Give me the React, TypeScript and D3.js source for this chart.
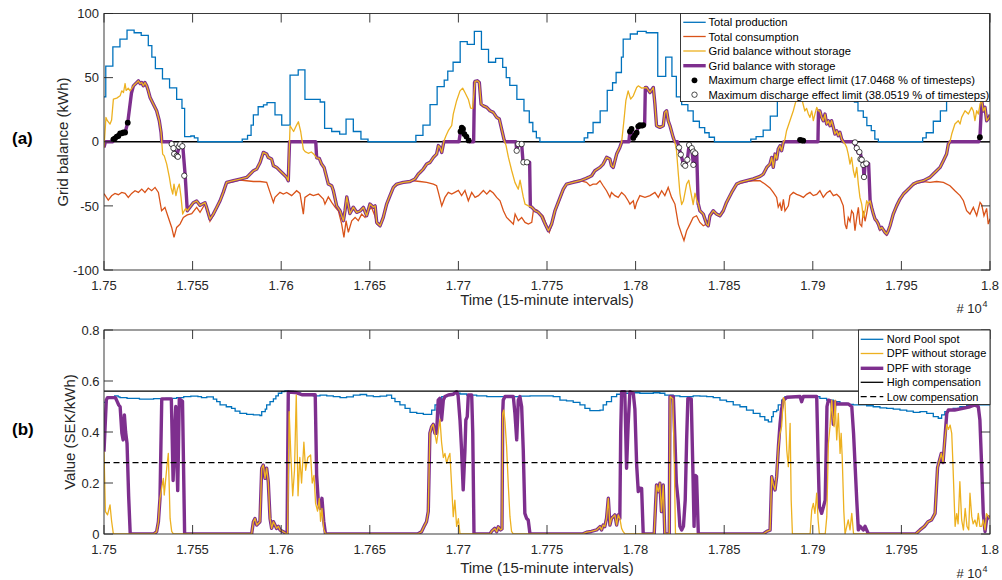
import React from "react";
import * as d3 from "d3";

type Pt = [number, number];

// ---------- shared ticks ----------
const xTickValues = [17500, 17550, 17600, 17650, 17700, 17750, 17800, 17850, 17900, 17950, 18000];
const xTickLabels = ["1.75", "1.755", "1.76", "1.765", "1.77", "1.775", "1.78", "1.785", "1.79", "1.795", "1.8"];
const yTicksA = [-100, -50, 0, 50, 100];
const yTicksB = [0, 0.2, 0.4, 0.6, 0.8];
const yTickLabelsB = ["0", "0.2", "0.4", "0.6", "0.8"];

// ---------- panel (a) data ----------
const production: Pt[] = [
  [17500, 35], [17501, 59], [17505, 74], [17509, 80], [17513, 87], [17517, 85], [17521, 83], [17525, 75], [17527, 66],
  [17529, 57], [17533, 49], [17537, 42], [17541, 33], [17544, 26], [17545.5, 4], [17549, 4.5], [17551, 3], [17553, 0],
  [17578, 2], [17581, 5], [17583, 13], [17584.3, 21], [17587, 27.3], [17590, 28.7], [17592, 30.5], [17596.5, 21],
  [17600.3, 13], [17605, 52], [17609.6, 56], [17613.4, 33], [17622, 31], [17624.5, 10.4], [17628.5, 8], [17633, 6],
  [17636.6, 17.7], [17640.7, 8], [17645, 2], [17649, 0],
  [17676, 5], [17680, 13], [17684, 29], [17688, 43], [17692, 48], [17694, 55], [17697, 62], [17701, 78], [17705, 76],
  [17709, 86], [17713, 72], [17717, 62], [17721, 65], [17725, 58], [17727, 50], [17729, 44], [17733, 33], [17737, 24],
  [17740, 15], [17742, 8], [17744, 3], [17746, 0],
  [17771, 3], [17773, 7], [17776, 15], [17780, 24], [17784, 40], [17787, 46], [17789, 54], [17792, 66], [17793, 80],
  [17797, 84], [17801, 86], [17806, 85], [17812.5, 51], [17817, 66], [17820.5, 51], [17823, 35], [17826, 29],
  [17829.5, 24], [17832.5, 16], [17836, 11], [17839, 7], [17841.5, 3.5], [17844.5, 0],
  [17865, 2], [17868, 4], [17872, 9], [17876, 20], [17880, 32], [17884, 48], [17888, 62], [17892, 75], [17896, 84],
  [17900, 86], [17904, 82], [17908, 72], [17912, 60], [17916, 48], [17920, 38], [17923.5, 31], [17925.5, 24],
  [17928.5, 19], [17930.5, 12.5], [17933, 8.6], [17935, 2], [17937, 0],
  [17962, 3], [17964, 7], [17968, 16], [17972, 24], [17975.5, 32], [17979, 45], [17983, 58], [17987, 68], [17991, 78],
  [17994, 84], [17997, 89], [18000, 89]
];

const consumption: Pt[] = [
  [17500, -40.5], [17502.4, -45.5], [17504.3, -42.1], [17506.2, -40.3], [17508.1, -41.3], [17510, -39.5], [17511.9, -40.3],
  [17513.7, -43.4], [17515.6, -40.3], [17517.5, -38.2], [17519.4, -39.5], [17521.3, -36.9], [17523.1, -39.5], [17525, -36.1],
  [17526.9, -38.2], [17528.8, -35.6], [17530.7, -39.5], [17532.5, -53.8], [17534.4, -51.2], [17536.3, -59], [17538.2, -66.8],
  [17539.5, -74.5], [17541, -66.8], [17542.9, -64.2], [17544.8, -59], [17547, -57], [17549.5, -56], [17552.3, -51.2],
  [17554.2, -55], [17557, -48.5], [17557.9, -52], [17559.8, -62], [17561.7, -57.5], [17563.6, -52], [17565.5, -46.5],
  [17567.3, -40], [17569.2, -32.5], [17573, -31], [17576.7, -29.9], [17580.5, -30.4], [17584.3, -31], [17588.1, -31],
  [17591.8, -31.7], [17593.7, -39.5], [17595.6, -47.3], [17596.5, -43.4], [17599.3, -39.5], [17601.2, -40.8], [17603.1, -39.5],
  [17605.9, -42], [17608.7, -38.2], [17610.6, -40.3], [17612.5, -56.4], [17613.4, -43.4], [17616.2, -40.8], [17618.1, -42],
  [17621, -40.8], [17623.8, -44.7], [17624.7, -48.6], [17626.6, -43], [17628.5, -47.3], [17630.4, -51], [17632.3, -54],
  [17634.1, -64], [17635.4, -74.5], [17636.6, -61.6], [17637.9, -70.6], [17639.8, -61.6], [17641.7, -59], [17643.5, -61.6],
  [17645.4, -56.4], [17647.3, -59], [17649.2, -53.8], [17651, -51.2], [17652.9, -58], [17653.9, -64], [17655.8, -66],
  [17657.6, -60], [17659.5, -48.6], [17661.4, -42], [17663.3, -35.6], [17667, -32.5], [17670.8, -31.7], [17674.6, -30.4],
  [17678.3, -31], [17682.1, -31.7], [17685.9, -33], [17687.7, -34.3], [17688.7, -39.5], [17690.6, -50], [17692.4, -43.4],
  [17694.3, -39.5], [17696.2, -40.8], [17698, -39.5], [17700, -38], [17701.8, -42], [17703.7, -38], [17705.6, -46],
  [17707.5, -39.5], [17709.4, -43.4], [17711.3, -42], [17714.1, -38], [17716, -40.8], [17717.8, -38], [17719.7, -40],
  [17721.6, -43.4], [17723.5, -46], [17725.4, -53.8], [17727.2, -59], [17729.1, -61.6], [17731, -64.2], [17732, -56.4],
  [17733.8, -61.6], [17735.7, -59], [17737.6, -62.9], [17739.5, -64.2], [17741.4, -62.9], [17742.3, -53.8], [17744.2, -53],
  [17746.1, -56], [17747.9, -58], [17749.8, -65], [17751.3, -70.6], [17752.6, -65.5], [17754.5, -55], [17756.3, -48.6],
  [17759.2, -38.2], [17761, -33], [17764.8, -31], [17768.6, -30.4], [17772.3, -31.7], [17774.2, -34.3], [17776, -33],
  [17778, -33], [17779.9, -30.4], [17781.7, -34.3], [17783.6, -38.2], [17785.5, -43.4], [17786.4, -39.5], [17788.3, -42],
  [17790.2, -43.4], [17792.1, -39.5], [17794, -42], [17795.8, -46], [17796.8, -48.6], [17798.7, -46], [17799.6, -52.5],
  [17800.6, -47.3], [17802.4, -42], [17805.3, -43.4], [17808.1, -42], [17810.9, -39.5], [17812.8, -43.4], [17814.7, -38.2],
  [17816.5, -42], [17818.4, -35.6], [17820.3, -43.4], [17822.2, -48.6], [17824.1, -64.2], [17826, -72], [17827.3, -77],
  [17828.8, -69.4], [17830.7, -64.2], [17832.5, -59], [17834.4, -57.7], [17836.3, -62.9], [17838.2, -65.5], [17840.1, -64.2],
  [17841.9, -59], [17843.8, -55], [17845.7, -57], [17847.6, -58.4], [17849.5, -54], [17851.3, -48], [17854.2, -40],
  [17857, -33.5], [17858.9, -32.5], [17862.6, -31], [17866.4, -30.4], [17870.2, -30.4], [17873, -33], [17875.8, -36],
  [17877.7, -39.5], [17879.6, -43.4], [17880.5, -51], [17881.5, -48], [17882.4, -53.8], [17883.4, -45], [17884.3, -54],
  [17886.2, -50], [17887.1, -42], [17889, -39.5], [17890.9, -41], [17892.8, -42], [17894.7, -43.4], [17896.5, -41],
  [17898.4, -39.5], [17900.3, -42], [17902.2, -41], [17904, -38.2], [17905.9, -43.4], [17907.8, -40], [17909.7, -38.2],
  [17911.6, -42], [17913.5, -41], [17915.3, -43.4], [17917.2, -50], [17918.2, -64.2], [17919.1, -68], [17920, -59],
  [17921, -62], [17921.9, -53.8], [17922.9, -56], [17923.8, -69.4], [17924.8, -59], [17925.7, -51.2], [17926.6, -64.2],
  [17927.6, -66], [17928.5, -53.8], [17929.5, -62], [17930.4, -56], [17931.3, -48.6], [17932.3, -47], [17933.2, -52],
  [17934.2, -57], [17935.1, -61], [17936, -62], [17937, -65], [17937.9, -69], [17938.9, -67], [17940.7, -71.5],
  [17941.7, -73], [17942.6, -70], [17943.6, -66], [17945.4, -57], [17947.3, -51], [17949.2, -45.5], [17951.1, -41.5],
  [17953, -39], [17954.9, -36.5], [17956.7, -34], [17958.6, -32.5], [17962.4, -31], [17966.1, -31.7], [17969.9, -31],
  [17973.7, -31.7], [17977.4, -34.3], [17980.2, -38.2], [17983.1, -42], [17985, -46], [17986.8, -53.8], [17988.7, -56.4],
  [17990.6, -51.2], [17992.5, -57.7], [17994.4, -47.3], [17995.3, -49], [17996.6, -57.7], [17998.1, -52], [17999, -64.2],
  [18000, -60]
];

const balanceNoStorage: Pt[] = [
  [17500, -4.4], [17501.1, 19], [17501.9, 16.4], [17503.4, 13.8], [17504.3, 17], [17505.3, 33.2], [17507.2, 34], [17509.1, 35.8],
  [17510, 39.7], [17511, 38.4], [17511.9, 45.4], [17512.5, 40], [17513.7, 41.8], [17514.7, 39.7], [17516.6, 43.6], [17518.5, 46.2],
  [17519.4, 47.5], [17520.4, 45.4], [17521.3, 46.2], [17522.2, 43.6], [17523.1, 46.2], [17524.1, 43.6], [17525, 39.7], [17526, 34.5],
  [17527.8, 29.4], [17529.7, 24.2], [17531.2, 16.4], [17532.2, 7.3], [17533.1, -9.6], [17534, -11], [17535.4, -17.4],
  [17536.9, -27.8], [17537.8, -35.6], [17538.8, -40.8], [17539.5, -33], [17540.6, -42], [17541.4, -36.9], [17542.5, -33],
  [17543.5, -43.4], [17544.4, -56.4], [17545.2, -54], [17546.1, -52], [17547, -53.8], [17548.5, -51], [17550.4, -47.5],
  [17552.3, -46.2], [17554.2, -49.6], [17557, -47.5], [17557.9, -51.2], [17559.8, -60.3], [17561.7, -56.4], [17563.6, -51.2],
  [17565.5, -46], [17567.3, -39.5], [17569.2, -31.7], [17573, -30.4], [17576.7, -29.1], [17580.5, -27.8], [17581.5, -26.5],
  [17584.3, -22.6], [17586.2, -21.3], [17588.1, -16.1], [17589.9, -8.3], [17591.8, -9.6], [17592.7, -12.2], [17594.6, -13.5],
  [17595.6, -18.7], [17597.4, -20], [17599.3, -22.6], [17601.2, -25.2], [17603.1, -27.8], [17604, -30.4], [17605, 12.5],
  [17607, 8], [17608.7, 13], [17609.7, 15.6], [17611, 8], [17612.5, -6], [17613.5, -7.7], [17615.3, -9], [17617, -8],
  [17618.6, -10], [17620, -12.5], [17621.5, -13], [17622.8, -17.4], [17624.2, -20], [17626.6, -33], [17628.5, -34.3],
  [17629.4, -38], [17631.3, -50], [17633.2, -53.8], [17635.1, -61.6], [17636, -53.8], [17637, -43], [17638.8, -56],
  [17640.7, -51], [17642.6, -55], [17644.5, -54], [17646.4, -51.2], [17648.2, -57.7], [17650.1, -48.6], [17652, -51],
  [17653, -50], [17653.9, -62.9], [17655.8, -65.5], [17657.6, -59], [17659.5, -48.6], [17661.4, -42], [17663.3, -35.6],
  [17665.2, -33], [17668.9, -31.7], [17672.7, -31], [17675.5, -29], [17677.4, -25.2], [17678.3, -24], [17680.2, -21.3],
  [17682.1, -17.4], [17684, -16.1], [17685.9, -12.2], [17687.7, -9.6], [17688.7, -3], [17689.6, -4.4], [17690.6, -8.3],
  [17691.9, 0.8], [17693, 4.7], [17694.3, 8.6], [17696.2, 12.5], [17697.1, 21.6], [17699, 32], [17700.9, 39.7],
  [17702.4, 41.8], [17703.7, 38.4], [17705.6, 33.2], [17706.9, 26.2], [17708, 26], [17708.8, 38], [17709.4, 47],
  [17710.7, 47.5], [17711.8, 46.2], [17712.8, 29.4], [17714.1, 28], [17716, 26.8], [17717.8, 24.2], [17719.7, 22.9],
  [17721.6, 19], [17723.1, 17.7], [17724.4, 9.9], [17725.7, 2], [17726.9, -3], [17728.2, -12], [17730.1, -22.6],
  [17731.9, -31.7], [17733.8, -37], [17734.8, -30], [17736.6, -43], [17737.6, -48.6], [17739.5, -50], [17741.4, -51],
  [17743.3, -53.8], [17745.1, -55], [17747, -58], [17748.9, -64], [17750.8, -69.4], [17752.6, -64.2], [17754.5, -53.8],
  [17756.3, -47.3], [17759.2, -36.9], [17761, -33], [17764.8, -31.7], [17768.6, -30.4], [17771.4, -29], [17773.3, -27.8],
  [17775.2, -26.5], [17777, -22.6], [17779.9, -20], [17781.7, -17.4], [17783.6, -12.2], [17785.5, -13.5], [17786.4, -18.7],
  [17787.4, -20], [17789.3, -9.6], [17791.1, -4.4], [17792.1, -0.5], [17793.4, 16.4], [17794.5, 32], [17795.8, 39.7],
  [17797.2, 33.2], [17798.7, 35.8], [17800.6, 42.3], [17801.5, 43.6], [17803.4, 41.8], [17806.2, 42.3], [17808.1, 38.4],
  [17810, 42.3], [17810.9, 29.4], [17811.8, 12.5], [17813.7, 11.2], [17815.6, 12.5], [17816.5, 22.9], [17817.5, 24.2],
  [17818.4, 16.4], [17819.4, 12.5], [17821.2, 3.4], [17822.2, -0.5], [17823.1, -7], [17824.1, -25], [17825, -40],
  [17826, -49], [17827, -46], [17828.8, -33], [17830, -30], [17831, -38], [17832.5, -49], [17833.5, -40], [17834.4, -45],
  [17835.4, -48.6], [17836.3, -53.8], [17838.2, -56.4], [17840.1, -64.2], [17841, -65.5], [17841.9, -57.7], [17843.8, -53.8],
  [17845.7, -56.4], [17847.6, -57.7], [17849.5, -53.8], [17851.3, -47.3], [17854.2, -39.5], [17857, -33], [17858.9, -31.7],
  [17862.6, -30.4], [17866.4, -29], [17870.2, -27], [17872.1, -25.2], [17874, -20], [17875.8, -17.4], [17876.8, -12.2],
  [17877.7, -20], [17878.7, -9.6], [17879.6, -13.5], [17880.5, -5.7], [17881.5, -3.1], [17882.4, -7], [17883.4, -0.5],
  [17884.3, 2], [17885.2, 8.6], [17887.1, 16.4], [17889, 24.2], [17890, 29.4], [17891.5, 36], [17893, 38], [17894.4, 30],
  [17895.5, 24], [17896.5, 26], [17897.5, 21.6], [17898.4, 19], [17899.4, 24], [17900.3, 16.4], [17901.2, 21.6],
  [17902.2, 26.8], [17903.1, 24], [17904, 24], [17905, 19], [17905.9, 16.4], [17906.9, 21.6], [17907.8, 13.8],
  [17908.8, 16.4], [17909.7, 12.5], [17910.6, 16.4], [17911.6, 11.2], [17912.5, 6], [17913.5, 8.6], [17914.4, 4.7],
  [17915.3, 7.3], [17916.3, 2], [17917.2, 0], [17918.2, -1.8], [17919.1, -4.4], [17920, -9.6], [17921, -17.4],
  [17921.9, -12.2], [17922.9, -22.6], [17923.8, -27.8], [17924.8, -20], [17925.7, -33], [17926.6, -43.4], [17927.6, -48.6],
  [17928.5, -59], [17929.5, -53.8], [17930.4, -46], [17931.3, -48.6], [17932.3, -46], [17933.2, -51.2], [17934.2, -56.4],
  [17935.1, -60.3], [17936, -61.6], [17937, -64.2], [17937.9, -68], [17938.9, -66.8], [17940.7, -70.6], [17941.7, -72],
  [17942.6, -69.4], [17943.6, -65.5], [17945.4, -56.4], [17947.3, -50], [17949.2, -44.7], [17951.1, -40.8], [17953, -38.2],
  [17954.9, -35.6], [17956.7, -33], [17958.6, -31.7], [17962.4, -30.4], [17964.3, -29], [17966.1, -27.8], [17968, -25.2],
  [17969.9, -22.6], [17971.8, -20], [17973.7, -14.8], [17975.5, -9.6], [17976.5, -1.8], [17977.4, 0], [17978.4, 6],
  [17980.2, 13.8], [17982.1, 16.4], [17983.1, 13.8], [17984, 19], [17985.9, 24.2], [17987.8, 21.6], [17989.6, 26.8],
  [17990.6, 24], [17991.5, 16.4], [17992.5, 24.2], [17993.4, 21.6], [17994.4, 29.4], [17995.3, 32], [17996.2, 24],
  [17997.2, 26.8], [17998.1, 16.4], [17999.6, 19], [18000, 21]
];

// periods where the battery changes the grid balance (otherwise it equals the balance without storage)
const storageWindowsA: Pt[][] = [
  [[17500.8, 0], [17505, 0], [17505.3, 1.9], [17506.2, 2.7], [17507.2, 4], [17508.1, 4.5], [17509.1, 6.6], [17510, 6.6],
   [17510.9, 7.2], [17511.9, 7.2], [17513.4, 14.9], [17515.5, 38], [17516.6, 43.6]],
  [[17532.6, 0], [17537.9, 0], [17539.2, -5.8], [17541.1, -10.6], [17542.4, -4.1], [17544.5, -4.1], [17545.8, -26], [17547, -53.8]],
  [[17604.7, 0], [17619.5, 0], [17620, -12.5]],
  [[17691.8, 0], [17700.3, 0], [17701.2, 8], [17701.9, 11], [17702.6, 10], [17703.4, 6], [17704.5, 4], [17705.8, 1],
   [17706.3, 0], [17708.6, 0], [17709.1, 46]],
  [[17726.3, 0], [17732.5, 0], [17732.9, -7], [17733.8, -1.8], [17735.7, -1.8], [17736.5, -16], [17740.2, -16], [17740.6, -50.5]],
  [[17792.2, 0], [17796.2, 0], [17796.8, 8], [17797.7, 10], [17798.7, 3], [17799.6, 5], [17800.6, 7], [17801.5, 12],
   [17802.4, 13], [17803.4, 12.5], [17804.3, 13], [17805.1, 13], [17805.5, 42.3]],
  [[17822.1, 0], [17823.6, 0], [17824.5, -4.5], [17825.5, -10], [17827.1, -17.5], [17828, -18.7], [17829.2, -14],
   [17830.2, -2.5], [17831.7, -5], [17832.6, -18], [17833.6, -9], [17834.5, -9], [17835.3, -48.6]],
  [[17883.6, 0], [17892.3, 0], [17892.8, 1.5], [17893.7, 1], [17894.6, 0.8], [17895.2, 0], [17902.9, 0], [17903.2, 24]],
  [[17917.25, 0], [17923.5, 0], [17924.5, -5], [17925.8, -9], [17926.7, -8], [17927.6, -14], [17928.5, -18], [17928.9, -28],
   [17929.5, -18], [17930.5, -18], [17931.5, -17], [17932.35, -46]],
  [[17977.45, 0], [17993.6, 0], [17994.3, 3.5], [17995.35, 32]]
];

const chargeLimitPts: Pt[] = [
  [17505.3, 1.9], [17506.2, 2.7], [17507.2, 4], [17508.1, 4.5], [17509.1, 6.6], [17510, 6.6], [17510.9, 7.2], [17511.9, 7.2],
  [17513.4, 14.9],
  [17701.2, 8], [17701.9, 11], [17702.6, 10], [17703.4, 6], [17704.5, 4], [17705.8, 1],
  [17796.8, 8], [17797.7, 10], [17798.7, 3], [17799.6, 5], [17800.6, 7], [17801.5, 12], [17802.4, 13], [17803.4, 12.5],
  [17804.3, 13],
  [17892.8, 1.5], [17893.7, 1], [17894.6, 0.8],
  [17994.3, 3.5]
];

const dischargeLimitPts: Pt[] = [
  [17538.2, -1.8], [17539.2, -5], [17539.6, -9.5], [17541.1, -11], [17541.7, -11.7], [17542.3, -3.8], [17543, -2],
  [17544.2, -3.5], [17545.3, -26.5],
  [17732.9, -7], [17733.8, -1.8], [17735.7, -1.8], [17736.7, -16], [17738.7, -16],
  [17824.5, -4.5], [17825.5, -10], [17827.1, -17.5], [17828, -18.7], [17829.2, -14], [17830.2, -2.5], [17831.7, -5],
  [17832.6, -7.7], [17832.6, -18], [17833.6, -9],
  [17923.8, -0.5], [17924.8, -5], [17926.3, -8], [17926.9, -13.6], [17927.6, -14], [17928.5, -18], [17928.9, -27.5],
  [17930.2, -17]
];

// ---------- panel (b) data ----------
const nordPool: Pt[] = [
  [17500, 0.516], [17501.5, 0.535], [17503, 0.539], [17506, 0.542], [17508, 0.538], [17509, 0.535], [17513, 0.532],
  [17520, 0.529], [17528, 0.531], [17535, 0.532], [17541, 0.535], [17545, 0.539], [17549, 0.541], [17553, 0.539],
  [17555, 0.535], [17558, 0.538], [17561.7, 0.529], [17563.6, 0.519], [17565.5, 0.506], [17569, 0.499], [17572, 0.493],
  [17574, 0.482], [17576.7, 0.473], [17580.5, 0.469], [17584.3, 0.467], [17588, 0.464], [17589, 0.48], [17591, 0.49],
  [17591.8, 0.506], [17593.7, 0.519], [17595.6, 0.53], [17597, 0.542], [17598.4, 0.552], [17600.3, 0.558], [17602.1, 0.561],
  [17604, 0.559], [17606.9, 0.554], [17610.6, 0.549], [17612.5, 0.545], [17618.1, 0.542], [17621.9, 0.545], [17625.7, 0.542],
  [17629.4, 0.539], [17633.2, 0.535], [17636.9, 0.538], [17640.7, 0.545], [17644.5, 0.547], [17648.2, 0.542], [17652, 0.539],
  [17655.8, 0.541], [17659.5, 0.545], [17662.3, 0.532], [17664.2, 0.519], [17667, 0.506], [17669.9, 0.493], [17672.7, 0.477],
  [17676.5, 0.473], [17680.2, 0.469], [17683, 0.469], [17684.9, 0.486], [17686.8, 0.506], [17688.7, 0.525], [17690.6, 0.539],
  [17693.4, 0.545], [17697.1, 0.552], [17700.9, 0.549], [17704.7, 0.545], [17710.3, 0.542], [17716, 0.539], [17723.5, 0.539],
  [17729.1, 0.539], [17734.8, 0.541], [17740.4, 0.542], [17746, 0.542], [17749.8, 0.542], [17753.5, 0.539], [17757.3, 0.525],
  [17761, 0.522], [17764.8, 0.516], [17768.6, 0.506], [17771.4, 0.493], [17774.2, 0.484], [17777, 0.484], [17779.9, 0.486],
  [17781.7, 0.506], [17783.6, 0.519], [17786.4, 0.539], [17789.3, 0.548], [17792.1, 0.552], [17795, 0.552], [17798.7, 0.554],
  [17802.4, 0.552], [17806.2, 0.552], [17810, 0.554], [17813.7, 0.552], [17816.5, 0.545], [17821.2, 0.542], [17825, 0.539],
  [17828.8, 0.539], [17832.5, 0.542], [17836.3, 0.541], [17840.1, 0.539], [17843.8, 0.535], [17847.6, 0.525], [17851.3, 0.519],
  [17855.1, 0.506], [17858.9, 0.499], [17862.6, 0.486], [17866.4, 0.473], [17870.2, 0.46], [17872.9, 0.447], [17874.9, 0.44],
  [17876.8, 0.46], [17877.7, 0.48], [17879.6, 0.486], [17880.5, 0.506], [17882.4, 0.525], [17884.3, 0.539], [17888, 0.539],
  [17896.5, 0.541], [17900.3, 0.539], [17904, 0.532], [17907.8, 0.525], [17911.6, 0.519], [17915.3, 0.512], [17919.1, 0.508],
  [17922.9, 0.506], [17926.7, 0.506], [17930.4, 0.503], [17934.1, 0.499], [17937.9, 0.495], [17941.7, 0.493], [17945.4, 0.49],
  [17949.2, 0.486], [17953, 0.482], [17956.7, 0.477], [17960.5, 0.48], [17964.3, 0.473], [17968, 0.46], [17970.8, 0.454],
  [17972.7, 0.467], [17974.5, 0.48], [17976.4, 0.486], [17979.2, 0.493], [17983, 0.499], [17986.8, 0.503], [17990.5, 0.506],
  [17995, 0.506], [18000, 0.506]
];

const dpfNoStorage: Pt[] = [
  [17500, 0.323], [17500.8, 0.088], [17502, 0.075], [17503.4, 0.114], [17504.3, 0.05], [17505.3, 0],
  [17528, 0], [17529.7, 0.009], [17530.7, 0.048], [17531.6, 0.14], [17532.5, 0.179], [17533.5, 0.218], [17534, 0.153],
  [17535.4, 0.258], [17536.3, 0.316], [17537.3, 0.061], [17538.2, 0.01], [17539.2, 0],
  [17583.3, 0], [17584.3, 0.048], [17585.2, 0.061], [17586.2, 0.035], [17588, 0.048], [17589, 0.258], [17589.9, 0.27],
  [17590.9, 0.218], [17591.8, 0.258], [17592.7, 0.205], [17593.7, 0.061], [17594.6, 0.022], [17595.6, 0.048],
  [17596.5, 0.035], [17597.4, 0.022], [17598.4, 0.03], [17599.3, 0.016], [17601.2, 0.009], [17603.1, 0],
  [17603.6, 0], [17604.5, 0.48], [17605.5, 0.3], [17606.5, 0.15], [17607.5, 0.25], [17608.5, 0.545], [17609.5, 0.15],
  [17610.5, 0.3], [17611.5, 0.2], [17612.8, 0.36], [17613.8, 0.25], [17615, 0.3], [17616.6, 0.31], [17617.5, 0.2],
  [17618.5, 0.23], [17619.4, 0.12], [17620.5, 0.09], [17621.5, 0.14], [17622.2, 0.05], [17623, 0.1], [17624, 0.02], [17625, 0],
  [17677, 0], [17679.2, 0.009], [17681, 0.035], [17682, 0.048], [17683, 0.088], [17683.9, 0.395], [17684.9, 0.421],
  [17685.8, 0.43], [17686.7, 0.395], [17687.7, 0.356], [17688.6, 0.4], [17689.6, 0.45], [17690.5, 0.36], [17691.5, 0.3],
  [17692.4, 0.316], [17693.4, 0.277], [17694.3, 0.3], [17695.2, 0.316], [17696.2, 0.186], [17697.1, 0.068], [17698, 0.133],
  [17699, 0.03], [17700, 0.06], [17700.9, 0],
  [17717.8, 0], [17719, 0.013], [17720.5, 0.022], [17721.6, 0.009], [17722.5, 0.028], [17723.8, 0.016], [17724.6, 0.02],
  [17725, 0.473], [17725.6, 0.486], [17726.3, 0.44], [17727.2, 0.342], [17728.2, 0.186], [17729.1, 0.068], [17730, 0.01], [17731, 0],
  [17770, 0], [17772.3, 0.007], [17775, 0.01], [17778, 0.016], [17779.9, 0.029], [17780.8, 0.016], [17781.7, 0.035],
  [17782.6, 0.029], [17783.6, 0.061], [17784.6, 0.14], [17785.5, 0.035], [17786.4, 0.061], [17788.3, 0.075], [17789.3, 0.035],
  [17790.2, 0.075], [17791.1, 0.061], [17792.1, 0.022], [17793, 0.009], [17794, 0],
  [17810.5, 0], [17811.8, 0.192], [17812.8, 0.166], [17813.7, 0.199], [17814.6, 0.088], [17815.6, 0.192], [17816.5, 0],
  [17819, 0], [17819.5, 0.539], [17821, 0.53], [17821.8, 0.3], [17822.5, 0],
  [17872, 0], [17874, 0.01], [17875.9, 0.015], [17876.8, 0.225], [17877.7, 0.193], [17878.7, 0.173], [17879.6, 0.225],
  [17880.6, 0.343], [17881.5, 0.395], [17882.4, 0.421], [17883.4, 0.535], [17884.3, 0.52], [17885.3, 0.329], [17886.2, 0.264],
  [17887.2, 0.434], [17887.8, 0.133], [17888.5, 0], [17898.5, 0], [17899.4, 0.094], [17900.3, 0.12], [17901.2, 0.081],
  [17902.2, 0.16], [17903, 0.055], [17903.7, 0], [17907, 0], [17907.9, 0.068], [17908.8, 0.356], [17909.7, 0.421],
  [17910.7, 0.525], [17911.3, 0.46], [17912, 0.421], [17912.6, 0.525], [17913.5, 0.369], [17914.4, 0.473], [17915.4, 0.316],
  [17916, 0.395], [17916.6, 0.3], [17917.5, 0.09], [17918.2, 0], [17920, 0.055], [17921, 0.016], [17922, 0.081], [17923, 0],
  [17958, 0], [17960.5, 0.016], [17963, 0.03], [17965, 0.048], [17967, 0.055], [17969, 0.081], [17970.4, 0.26],
  [17971.5, 0.29], [17972.5, 0.316], [17973.5, 0.28], [17974.5, 0.37], [17975.6, 0.43], [17976.5, 0.41], [17977.5, 0.427],
  [17978.4, 0.395], [17979, 0.29], [17980.3, 0.03], [17981.2, 0.08], [17982, 0.04], [17983, 0.205], [17984, 0.055],
  [17985, 0.016], [17986, 0.1], [17987, 0.03], [17988, 0.016], [17988.7, 0.16], [17989.7, 0.068], [17990.5, 0.04],
  [17991.5, 0.055], [17992.5, 0.03], [17993.4, 0.081], [17994.3, 0.03], [17995.3, 0.03], [17996.2, 0.055], [17997.2, 0.016],
  [17998, 0.08], [17999, 0.07], [18000, 0.06]
];

const dpfStorageWindows: Pt[][] = [
  [[17500, 0.323], [17501.3, 0.525], [17502, 0.535], [17506.4, 0.535], [17507.4, 0.52], [17508.3, 0.506], [17509.1, 0.499],
   [17510.1, 0.395], [17510.8, 0.369], [17511.5, 0.467], [17512.2, 0.4], [17513, 0.356], [17513.9, 0.15], [17514.8, 0]],
  [[17528, 0], [17529.7, 0.009], [17530.7, 0.048], [17531.6, 0.14], [17532, 0.3], [17532.6, 0.53], [17538, 0.53],
   [17539, 0.21], [17539.8, 0.38], [17540.5, 0.5], [17541, 0.3], [17541.6, 0.17], [17542.5, 0.53], [17544.3, 0.52], [17545.5, 0]],
  [[17603.3, 0], [17604, 0.557], [17608, 0.555], [17612, 0.546], [17619.2, 0.546], [17620, 0.23], [17621, 0.12], [17622, 0.1],
   [17623, 0.14], [17624, 0.05], [17625, 0]],
  [[17687.7, 0.395], [17688.6, 0.525], [17689.5, 0.532], [17690.5, 0.447], [17691.5, 0.525], [17692.4, 0.539], [17694.3, 0.545],
   [17697, 0.548], [17699, 0.558], [17699.8, 0.545], [17700.9, 0.447], [17701.8, 0.329], [17702.7, 0.173], [17703.7, 0.329],
   [17704.2, 0.447], [17705, 0.46], [17705.6, 0.545], [17707.5, 0.545], [17708.1, 0.395], [17708.8, 0]],
  [[17724.6, 0.02], [17725, 0.473], [17725.3, 0.525], [17726.3, 0.539], [17731, 0.539], [17731.9, 0.473], [17732.9, 0.369],
   [17733.8, 0.525], [17734.7, 0.539], [17735.7, 0.499], [17736.6, 0.329], [17737.5, 0.081], [17738.5, 0.061], [17739.4, 0.055],
   [17740.4, 0]],
  [[17791.1, 0.061], [17791.6, 0.4], [17792.1, 0.558], [17793.9, 0.558], [17794.9, 0.258], [17795.8, 0.43], [17796.8, 0.558],
   [17798.7, 0.552], [17799.6, 0.49], [17800.6, 0.27], [17801.5, 0.166], [17802.4, 0.18], [17803.4, 0.179], [17804.3, 0]],
  [[17819, 0], [17819.4, 0.539], [17821.3, 0.539], [17822.2, 0.369], [17823, 0.2], [17824, 0.133], [17825, 0.03], [17826, 0.016],
   [17827, 0.03], [17828, 0.133], [17828.8, 0.369], [17829.5, 0.532], [17831.4, 0.53], [17832.2, 0.29], [17833, 0.03],
   [17833.6, 0.23], [17834.4, 0.225], [17835.4, 0]],
  [[17881.5, 0.43], [17882.4, 0.49], [17883.4, 0.525], [17885.3, 0.536], [17892.8, 0.539], [17893.7, 0.519], [17894.7, 0.539],
   [17902.2, 0.539], [17903, 0.3], [17903.7, 0.107], [17905, 0.081], [17906, 0.107], [17907, 0.133], [17908, 0.5],
   [17908.8, 0.525], [17910.7, 0.519], [17911.6, 0.43], [17912.6, 0.519], [17913.5, 0.51], [17920.1, 0.51], [17922, 0.499],
   [17923, 0.395], [17924.8, 0.133], [17925.7, 0.016], [17926.7, 0.03], [17928.5, 0.016], [17929.5, 0.03], [17931.4, 0]],
  [[17974.5, 0.37], [17975.6, 0.473], [17976.5, 0.486], [17980, 0.486], [17984, 0.492], [17988.7, 0.499], [17991.5, 0.506],
   [17993.4, 0.499], [17994.3, 0.447], [17995.3, 0.264], [17996.2, 0.081], [17997.2, 0.01], [17998, 0.055], [17999, 0.066],
   [18000, 0.07]]
];

const highCompensation = 0.56;
const lowCompensation = 0.28;

const legendA = [
  "Total production",
  "Total consumption",
  "Grid balance without storage",
  "Grid balance with storage",
  "Maximum charge effect limit (17.0468 % of timesteps)",
  "Maximum discharge effect limit (38.0519 % of timesteps)"
];
const legendB = ["Nord Pool spot", "DPF without storage", "DPF with storage", "High compensation", "Low compensation"];

// ---------- styling ----------
const C_BLUE = "#0072BD";
const C_ORANGE = "#D95319";
const C_YELLOW = "#EDB120";
const C_PURPLE = "#7E2F8E";
const AX = "#262626";
const FONT = "'Liberation Sans', Arial, Helvetica, sans-serif";

function overlay(base: Pt[], wins: Pt[][]): Pt[] {
  let out = base.slice();
  for (const w of wins) {
    const t0 = w[0][0];
    const t1 = w[w.length - 1][0];
    out = [...out.filter(p => p[0] < t0), ...w, ...out.filter(p => p[0] > t1)];
  }
  return out;
}

const A = { left: 104, right: 990, top: 13.5, bottom: 270 };
const B = { left: 104, right: 990, top: 330, bottom: 534 };

function Axes(props: { box: typeof A; y: d3.ScaleLinear<number, number>; x: d3.ScaleLinear<number, number>; yTicks: number[]; yLabels: string[]; labelX: number }) {
  const { box, x, y, yTicks, yLabels, labelX } = props;
  const tl = 9;
  return (
    <g>
      <rect x={box.left} y={box.top} width={box.right - box.left} height={box.bottom - box.top} fill="none" stroke={AX} strokeWidth={0.9} />
      {xTickValues.map((t, i) => (
        <g key={"xt" + i}>
          <line x1={x(t)} x2={x(t)} y1={box.bottom} y2={box.bottom - tl} stroke={AX} strokeWidth={0.9} />
          <line x1={x(t)} x2={x(t)} y1={box.top} y2={box.top + tl} stroke={AX} strokeWidth={0.9} />
          <text x={x(t)} y={box.bottom + 15} dy="0.36em" textAnchor="middle" fontSize={13} fill={AX}>{xTickLabels[i]}</text>
        </g>
      ))}
      {yTicks.map((v, i) => (
        <g key={"yt" + i}>
          <line x1={box.left} x2={box.left + tl} y1={y(v)} y2={y(v)} stroke={AX} strokeWidth={0.9} />
          <line x1={box.right} x2={box.right - tl} y1={y(v)} y2={y(v)} stroke={AX} strokeWidth={0.9} />
          <text x={labelX} y={y(v)} dy="0.36em" textAnchor="end" fontSize={13} fill={AX}>{yLabels[i]}</text>
        </g>
      ))}
    </g>
  );
}

export default function App() {
  const xA = d3.scaleLinear().domain([17500, 18000]).range([A.left, A.right]);
  const yA = d3.scaleLinear().domain([-100, 100]).range([A.bottom, A.top]);
  const xB = d3.scaleLinear().domain([17500, 18000]).range([B.left, B.right]);
  const yB = d3.scaleLinear().domain([0, 0.8]).range([B.bottom, B.top]);

  const lineA = d3.line<Pt>().x(d => xA(d[0])).y(d => yA(d[1]));
  const stepA = d3.line<Pt>().x(d => xA(d[0])).y(d => yA(d[1])).curve(d3.curveStepAfter);
  const lineB = d3.line<Pt>().x(d => xB(d[0])).y(d => yB(d[1]));
  const stepB = d3.line<Pt>().x(d => xB(d[0])).y(d => yB(d[1])).curve(d3.curveStepAfter);

  const balanceWithStorage = overlay(balanceNoStorage, storageWindowsA);
  const dpfWithStorage = overlay(dpfNoStorage, dpfStorageWindows);

  const legAx = 680.5, legAy = 13.5, legAw = 309, legAh = 88;
  const rowsA = [22.3, 36.5, 51, 65.7, 80.3, 94.7];
  const legBx = 858.5, legBy = 330, legBw = 131.5, legBh = 74.5;
  const rowsB = [339.3, 353.5, 368.3, 382.3, 396.7];

  return (
    <svg width={1002} height={580} viewBox="0 0 1002 580" style={{ position: "absolute", left: 0, top: 0, background: "#fff" }} fontFamily={FONT}>
      <defs>
        <clipPath id="clipA"><rect x={A.left} y={A.top} width={A.right - A.left} height={A.bottom - A.top} /></clipPath>
        <clipPath id="clipB"><rect x={B.left} y={B.top} width={B.right - B.left} height={B.bottom - B.top} /></clipPath>
      </defs>
      <rect x={0} y={0} width={1002} height={580} fill="#fff" />

      {/* ---------- panel (a) ---------- */}
      <g clipPath="url(#clipA)">
        <line x1={A.left} x2={A.right} y1={yA(0)} y2={yA(0)} stroke="#000" strokeWidth={1.3} />
        <path d={stepA(production) || ""} fill="none" stroke={C_BLUE} strokeWidth={1.3} />
        <path d={lineA(consumption) || ""} fill="none" stroke={C_ORANGE} strokeWidth={1.3} />
        <path d={lineA(balanceWithStorage) || ""} fill="none" stroke={C_PURPLE} strokeWidth={3.4} strokeLinejoin="round" />
        <path d={lineA(balanceNoStorage) || ""} fill="none" stroke={C_YELLOW} strokeWidth={1.3} strokeLinejoin="round" />
        {chargeLimitPts.map((p, i) => (
          <circle key={"c" + i} cx={xA(p[0])} cy={yA(p[1])} r={2.9} fill="#000" />
        ))}
        {dischargeLimitPts.map((p, i) => (
          <circle key={"d" + i} cx={xA(p[0])} cy={yA(p[1])} r={2.7} fill="#fff" stroke="#000" strokeWidth={0.7} />
        ))}
      </g>
      <Axes box={A} x={xA} y={yA} yTicks={yTicksA} yLabels={yTicksA.map(String)} labelX={99} />
      <text x={547} y={300} dy="0.35em" textAnchor="middle" fontSize={15} fill={AX}>Time (15-minute intervals)</text>
      <text transform="translate(62.5,142) rotate(-90)" dy="0.35em" textAnchor="middle" fontSize={15} fill={AX}>Grid balance (kWh)</text>
      <text x={956.5} y={313} fontSize={13} fill={AX}># 10</text>
      <text x={982.5} y={306.5} fontSize={9} fill={AX}>4</text>
      <text x={12} y={143.5} fontSize={17} fontWeight="bold" fill="#000">(a)</text>

      {/* legend (a) */}
      <rect x={legAx} y={legAy} width={legAw} height={legAh} fill="#fff" stroke={AX} strokeWidth={0.9} />
      <line x1={683.3} x2={705.7} y1={rowsA[0]} y2={rowsA[0]} stroke={C_BLUE} strokeWidth={1.3} />
      <line x1={683.3} x2={705.7} y1={rowsA[1]} y2={rowsA[1]} stroke={C_ORANGE} strokeWidth={1.3} />
      <line x1={683.3} x2={705.7} y1={rowsA[2]} y2={rowsA[2]} stroke={C_YELLOW} strokeWidth={1.3} />
      <line x1={683.3} x2={705.7} y1={rowsA[3]} y2={rowsA[3]} stroke={C_PURPLE} strokeWidth={3.4} />
      <circle cx={694.5} cy={rowsA[4]} r={2.9} fill="#000" />
      <circle cx={694.5} cy={rowsA[5]} r={2.7} fill="#fff" stroke="#000" strokeWidth={0.7} />
      {legendA.map((s, i) => (
        <text key={"la" + i} x={708.5} y={rowsA[i]} dy="0.36em" fontSize={11.2} fill="#000">{s}</text>
      ))}

      {/* ---------- panel (b) ---------- */}
      <g clipPath="url(#clipB)">
        <path d={stepB(nordPool) || ""} fill="none" stroke={C_BLUE} strokeWidth={1.3} />
        <path d={lineB(dpfWithStorage) || ""} fill="none" stroke={C_PURPLE} strokeWidth={3.4} strokeLinejoin="round" />
        <path d={lineB(dpfNoStorage) || ""} fill="none" stroke={C_YELLOW} strokeWidth={1.3} strokeLinejoin="round" />
        <line x1={B.left} x2={B.right} y1={yB(highCompensation)} y2={yB(highCompensation)} stroke="#000" strokeWidth={1.3} />
        <line x1={B.left} x2={B.right} y1={yB(lowCompensation)} y2={yB(lowCompensation)} stroke="#000" strokeWidth={1.3} strokeDasharray="6,3.5" />
      </g>
      <Axes box={B} x={xB} y={yB} yTicks={yTicksB} yLabels={yTickLabelsB} labelX={99.5} />
      <text x={547} y={568} dy="0.35em" textAnchor="middle" fontSize={15} fill={AX}>Time (15-minute intervals)</text>
      <text transform="translate(70,432) rotate(-90)" dy="0.35em" textAnchor="middle" fontSize={15} fill={AX}>Value (SEK/kWh)</text>
      <text x={956.5} y={578} fontSize={13} fill={AX}># 10</text>
      <text x={982.5} y={571.5} fontSize={9} fill={AX}>4</text>
      <text x={12} y={434.5} fontSize={17} fontWeight="bold" fill="#000">(b)</text>

      {/* legend (b) */}
      <rect x={legBx} y={legBy} width={legBw} height={legBh} fill="#fff" stroke={AX} strokeWidth={0.9} />
      <line x1={860.7} x2={883.3} y1={rowsB[0]} y2={rowsB[0]} stroke={C_BLUE} strokeWidth={1.3} />
      <line x1={860.7} x2={883.3} y1={rowsB[1]} y2={rowsB[1]} stroke={C_YELLOW} strokeWidth={1.3} />
      <line x1={860.7} x2={883.3} y1={rowsB[2]} y2={rowsB[2]} stroke={C_PURPLE} strokeWidth={3.4} />
      <line x1={860.7} x2={883.3} y1={rowsB[3]} y2={rowsB[3]} stroke="#000" strokeWidth={1.3} />
      <line x1={860.7} x2={883.3} y1={rowsB[4]} y2={rowsB[4]} stroke="#000" strokeWidth={1.3} strokeDasharray="6,3.5" />
      {legendB.map((s, i) => (
        <text key={"lb" + i} x={886.7} y={rowsB[i]} dy="0.36em" fontSize={11} fill="#000">{s}</text>
      ))}
    </svg>
  );
}
